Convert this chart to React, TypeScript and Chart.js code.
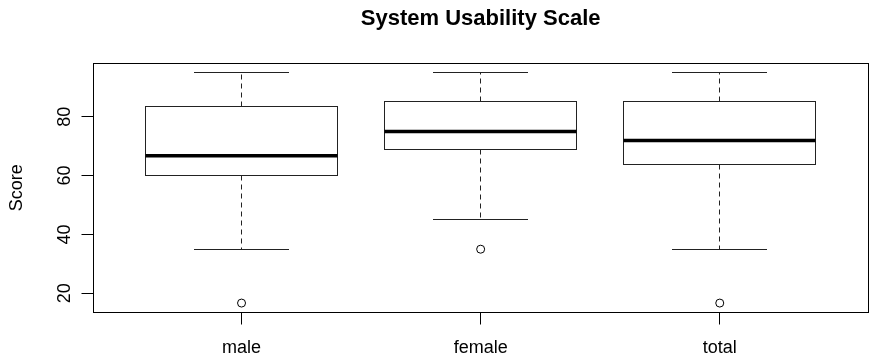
import React, { useEffect, useRef } from 'react';
import { Chart, registerables } from 'chart.js';

Chart.register(...registerables);

const chartTitle = 'System Usability Scale';
const yAxisTitle = 'Score';
const categories = ['male', 'female', 'total'];
const whiskerLow = [35, 45, 35];
const q1 = [60, 68.75, 63.75];
const median = [66.7, 75, 71.9];
const q3 = [83.3, 85, 85];
const whiskerHigh = [95, 95, 95];
const outliers = [[16.7], [35], [16.7]];
const yTicks = [20, 40, 60, 80];

const FONT = '"Liberation Sans", Arial, Helvetica, sans-serif';

const allValues = [...whiskerLow, ...whiskerHigh, ...outliers.flat()];
const dMin = Math.min(...allValues);
const dMax = Math.max(...allValues);
const ext = 0.04 * (dMax - dMin);

const crisp = (v: number) => Math.round(v - 0.5) + 0.5;

const boxPlugin = {
  id: 'rBoxplot',
  beforeDatasetsDraw(chart: any) {
    const { ctx, chartArea: a, scales } = chart;
    const x = scales.x;
    const y = scales.y;
    ctx.save();
    const half = Math.abs(x.getPixelForValue(1.4) - x.getPixelForValue(1));
    const capHalf = half / 2;
    categories.forEach((_, i) => {
      const cx = crisp(x.getPixelForValue(i + 1));
      const yLo = crisp(y.getPixelForValue(whiskerLow[i]));
      const yQ1 = crisp(y.getPixelForValue(q1[i]));
      const yMed = y.getPixelForValue(median[i]);
      const yQ3 = crisp(y.getPixelForValue(q3[i]));
      const yHi = crisp(y.getPixelForValue(whiskerHigh[i]));
      // whiskers (dashed)
      ctx.strokeStyle = '#222';
      ctx.lineWidth = 1;
      ctx.setLineDash([5, 4]);
      ctx.beginPath();
      ctx.moveTo(cx, yQ3);
      ctx.lineTo(cx, yHi);
      ctx.moveTo(cx, yQ1);
      ctx.lineTo(cx, yLo);
      ctx.stroke();
      ctx.setLineDash([]);
      // staples
      ctx.beginPath();
      ctx.moveTo(Math.round(cx - capHalf), yHi);
      ctx.lineTo(Math.round(cx + capHalf), yHi);
      ctx.moveTo(Math.round(cx - capHalf), yLo);
      ctx.lineTo(Math.round(cx + capHalf), yLo);
      ctx.stroke();
      // box
      const bl = crisp(cx - half);
      const br = crisp(cx + half);
      ctx.fillStyle = '#fff';
      ctx.fillRect(bl, yQ3, br - bl, yQ1 - yQ3);
      ctx.strokeRect(bl, yQ3, br - bl, yQ1 - yQ3);
      // median
      ctx.strokeStyle = '#000';
      ctx.lineWidth = 3.5;
      ctx.beginPath();
      ctx.moveTo(bl, yMed);
      ctx.lineTo(br, yMed);
      ctx.stroke();
    });
    ctx.restore();
  },
  afterDraw(chart: any) {
    const { ctx, chartArea: a, scales } = chart;
    const x = scales.x;
    const y = scales.y;
    ctx.save();
    // frame
    ctx.strokeStyle = '#000';
    ctx.lineWidth = 1;
    const l = crisp(a.left), t = crisp(a.top), r = crisp(a.right), b = crisp(a.bottom);
    ctx.strokeRect(l, t, r - l, b - t);
    // y ticks
    ctx.fillStyle = '#000';
    ctx.font = `18px ${FONT}`;
    yTicks.forEach((v) => {
      const py = crisp(y.getPixelForValue(v));
      ctx.beginPath();
      ctx.moveTo(l, py);
      ctx.lineTo(l - 12, py);
      ctx.stroke();
      ctx.save();
      ctx.translate(69.5, y.getPixelForValue(v));
      ctx.rotate(-Math.PI / 2);
      ctx.textAlign = 'center';
      ctx.textBaseline = 'alphabetic';
      ctx.fillText(String(v), 0, 0);
      ctx.restore();
    });
    // x ticks
    categories.forEach((c, i) => {
      const px = crisp(x.getPixelForValue(i + 1));
      ctx.beginPath();
      ctx.moveTo(px, b);
      ctx.lineTo(px, b + 12);
      ctx.stroke();
      ctx.textAlign = 'center';
      ctx.textBaseline = 'alphabetic';
      ctx.fillText(c, x.getPixelForValue(i + 1), 353);
    });
    // y axis title
    ctx.save();
    ctx.translate(22, (a.top + a.bottom) / 2);
    ctx.rotate(-Math.PI / 2);
    ctx.textAlign = 'center';
    ctx.textBaseline = 'alphabetic';
    ctx.fillText(yAxisTitle, 0, 0);
    ctx.restore();
    // title
    ctx.font = `bold 22px ${FONT}`;
    ctx.textAlign = 'center';
    ctx.textBaseline = 'alphabetic';
    ctx.fillText(chartTitle, (a.left + a.right) / 2, 25);
    ctx.restore();
  },
};

export default function App() {
  const ref = useRef<HTMLCanvasElement | null>(null);
  useEffect(() => {
    document.body.style.margin = '0';
    if (!ref.current) return;
    const points = categories.flatMap((_, i) => outliers[i].map((v) => ({ x: i + 1, y: v })));
    const chart = new Chart(ref.current, {
      type: 'scatter',
      data: {
        datasets: [
          {
            label: 'outliers',
            data: points,
            pointStyle: 'circle',
            pointRadius: 4,
            pointHoverRadius: 4,
            borderColor: '#000',
            backgroundColor: 'rgba(0,0,0,0)',
            borderWidth: 1,
          },
        ],
      },
      options: {
        responsive: false,
        animation: false,
        devicePixelRatio: 1,
        events: [],
        layout: { padding: { left: 93.3, top: 63.3, right: 0.5, bottom: 47.7 } },
        plugins: { legend: { display: false }, tooltip: { enabled: false }, title: { display: false } },
        scales: {
          x: { type: 'linear', display: false, min: 0.38, max: 3.62 },
          y: { type: 'linear', display: false, min: dMin - ext, max: dMax + ext },
        },
      },
      plugins: [boxPlugin],
    });
    return () => chart.destroy();
  }, []);
  return (
    <div style={{ width: 873, height: 360, background: '#fff' }}>
      <canvas ref={ref} width={873} height={360} style={{ display: 'block' }} />
    </div>
  );
}
